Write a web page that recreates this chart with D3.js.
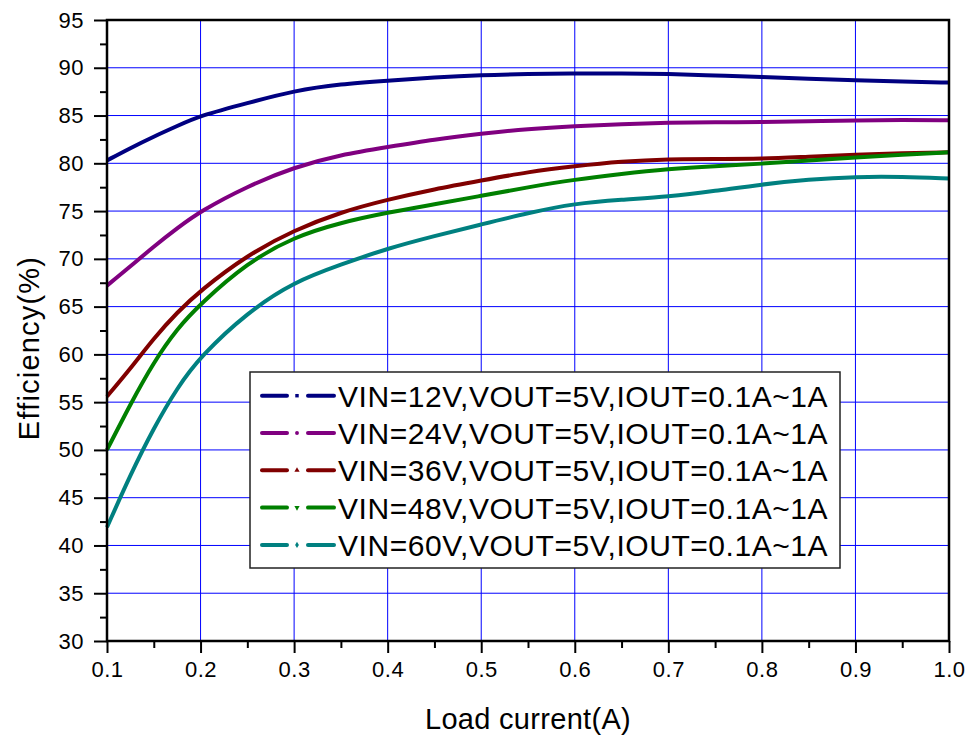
<!DOCTYPE html>
<html>
<head>
<meta charset="utf-8">
<script src="https://cdn.jsdelivr.net/npm/d3@7"></script>
<style>
    body { margin: 0; background: #fff; }
    #chart { width: 970px; height: 738px; }
    text { font-family: "Liberation Sans", Arial, sans-serif; fill: #000; }
</style>
</head>
<body>
<div id="chart"></div>
<script>
// load current (A)
var loadCurrent = [0.1, 0.125, 0.15, 0.175, 0.2, 0.25, 0.3, 0.35, 0.4, 0.45, 0.5,
    0.55, 0.6, 0.65, 0.7, 0.75, 0.8, 0.85, 0.9, 0.95, 1.0];

// efficiency (%) per input voltage
var eff12 = [80.3, 81.6, 82.8, 83.9, 85.0, 86.3, 87.6, 88.3, 88.65, 89.0, 89.25,
    89.35, 89.42, 89.42, 89.35, 89.2, 89.05, 88.85, 88.7, 88.55, 88.45];
var eff24 = [67.2, 69.2, 71.3, 73.2, 75.0, 77.6, 79.6, 80.9, 81.7, 82.5, 83.1,
    83.6, 83.9, 84.1, 84.25, 84.3, 84.3, 84.4, 84.5, 84.55, 84.5];
var eff36 = [55.6, 58.5, 61.7, 64.4, 66.7, 70.4, 73.0, 74.9, 76.2, 77.3, 78.2,
    79.1, 79.7, 80.2, 80.45, 80.45, 80.45, 80.7, 80.9, 81.05, 81.15];
var eff48 = [50.0, 54.8, 59.2, 62.7, 65.3, 69.6, 72.3, 73.8, 74.85, 75.7, 76.6,
    77.5, 78.3, 78.9, 79.4, 79.7, 79.95, 80.3, 80.6, 80.9, 81.15];
var eff60 = [41.9, 47.4, 52.3, 56.5, 59.8, 64.4, 67.6, 69.4, 71.1, 72.4, 73.6,
    74.8, 75.8, 76.2, 76.5, 77.1, 77.8, 78.3, 78.6, 78.6, 78.4];

var seriesNames = [
    "VIN=12V,VOUT=5V,IOUT=0.1A~1A",
    "VIN=24V,VOUT=5V,IOUT=0.1A~1A",
    "VIN=36V,VOUT=5V,IOUT=0.1A~1A",
    "VIN=48V,VOUT=5V,IOUT=0.1A~1A",
    "VIN=60V,VOUT=5V,IOUT=0.1A~1A"
];
var seriesValues = [eff12, eff24, eff36, eff48, eff60];
var seriesColors = ["#000080", "#800080", "#800000", "#008000", "#008080"];
var seriesMarkers = [d3.symbolSquare, d3.symbolCircle, d3.symbolTriangle, d3.symbolTriangle, d3.symbolDiamond];

var xTicks = [0.1, 0.2, 0.3, 0.4, 0.5, 0.6, 0.7, 0.8, 0.9, 1.0];
var yTicks = [30, 35, 40, 45, 50, 55, 60, 65, 70, 75, 80, 85, 90, 95];

class EffChart {
    constructor() {
        this.width = 970;
        this.height = 738;
        this.left = 107;
        this.right = 949;
        this.top = 20;
        this.bottom = 641;
        this.svg = null;
        this.x = null;
        this.y = null;
    }

    init() {
        this.svg = d3.select("#chart")
            .append("svg")
            .attr("width", this.width)
            .attr("height", this.height);

        this.x = d3.scaleLinear().domain([0.1, 1.0]).range([this.left, this.right]);
        this.y = d3.scaleLinear().domain([30, 95]).range([this.bottom, this.top]);
    }

    // ============================================================
    drawGrid() {
        var g = this.svg.append("g").attr("class", "grid");
        g.selectAll(".vgrid")
            .data(xTicks.slice(1, -1))
            .enter().append("line")
            .attr("x1", (d) => this.x(d)).attr("x2", (d) => this.x(d))
            .attr("y1", this.top).attr("y2", this.bottom)
            .attr("stroke", "#0000ff").attr("stroke-width", 1);
        g.selectAll(".hgrid")
            .data(yTicks.slice(1, -1))
            .enter().append("line")
            .attr("y1", (d) => this.y(d)).attr("y2", (d) => this.y(d))
            .attr("x1", this.left).attr("x2", this.right)
            .attr("stroke", "#0000ff").attr("stroke-width", 1);
    }

    drawCurves() {
        // smooth spline through the read points
        var line = d3.line()
            .x((d) => this.x(d[0]))
            .y((d) => this.y(d[1]))
            .curve(d3.curveBasis);

        this.svg.selectAll(".curve")
            .data(seriesValues)
            .enter().append("path")
            .attr("class", "curve")
            .attr("fill", "none")
            .attr("stroke", (d, i) => seriesColors[i])
            .attr("stroke-width", 4)
            .attr("stroke-linejoin", "round")
            .attr("d", (vals) => line(vals.map((v, i) => [loadCurrent[i], v])));
    }

    drawAxes() {
        var xAxis = d3.axisBottom(this.x)
            .tickValues(xTicks)
            .tickFormat(d3.format(".1f"))
            .tickSize(12)
            .tickPadding(8);
        var yAxis = d3.axisLeft(this.y)
            .tickValues(yTicks)
            .tickFormat(d3.format("d"))
            .tickSize(13)
            .tickPadding(10);

        // minor ticks
        var xMinor = d3.axisBottom(this.x)
            .tickValues(d3.range(0.15, 1.0, 0.1))
            .tickFormat("")
            .tickSize(7);
        var yMinor = d3.axisLeft(this.y)
            .tickValues(d3.range(32.5, 95, 5))
            .tickFormat("")
            .tickSize(7);

        this.svg.append("g")
            .attr("transform", "translate(0," + this.bottom + ")")
            .call(xAxis);
        this.svg.append("g")
            .attr("transform", "translate(0," + this.bottom + ")")
            .call(xMinor);
        this.svg.append("g")
            .attr("transform", "translate(" + this.left + ",0)")
            .call(yAxis);
        this.svg.append("g")
            .attr("transform", "translate(" + this.left + ",0)")
            .call(yMinor);

        this.svg.selectAll(".domain").remove();
        this.svg.selectAll(".tick line").attr("stroke", "#000").attr("stroke-width", 2);
        this.svg.selectAll(".tick text")
            .attr("font-family", "'Liberation Sans', Arial, sans-serif")
            .attr("font-size", 22)
            .attr("letter-spacing", 0.5);

        // frame
        this.svg.append("rect")
            .attr("x", this.left).attr("y", this.top)
            .attr("width", this.right - this.left)
            .attr("height", this.bottom - this.top)
            .attr("fill", "none")
            .attr("stroke", "#000")
            .attr("stroke-width", 2.5);

        // titles
        this.svg.append("text")
            .attr("x", (this.left + this.right) / 2)
            .attr("y", 729)
            .attr("text-anchor", "middle")
            .attr("font-size", 29)
            .attr("letter-spacing", 0.3)
            .text("Load current(A)");
        this.svg.append("text")
            .attr("transform", "translate(39," + 348 + ") rotate(-90)")
            .attr("text-anchor", "middle")
            .attr("font-size", 29)
            .attr("letter-spacing", 1.2)
            .text("Efficiency(%)");
    }

    drawLegend() {
        var lg = this.svg.append("g").attr("class", "legend");
        lg.append("rect")
            .attr("x", 250).attr("y", 372)
            .attr("width", 590).attr("height", 196)
            .attr("fill", "#fff")
            .attr("stroke", "#222")
            .attr("stroke-width", 1.5);

        var rows = lg.selectAll(".row")
            .data(seriesNames)
            .enter().append("g")
            .attr("transform", (d, i) => "translate(0," + (395.7 + i * 37.3) + ")");

        rows.append("line")
            .attr("x1", 262).attr("x2", 287)
            .attr("stroke", (d, i) => seriesColors[i])
            .attr("stroke-width", 4).attr("stroke-linecap", "round");
        rows.append("line")
            .attr("x1", 308).attr("x2", 334)
            .attr("stroke", (d, i) => seriesColors[i])
            .attr("stroke-width", 4).attr("stroke-linecap", "round");
        rows.append("path")
            .attr("transform", (d, i) => "translate(297,0)" + (i == 3 ? " rotate(180)" : ""))
            .attr("d", (d, i) => d3.symbol().type(seriesMarkers[i]).size(12)())
            .attr("fill", (d, i) => seriesColors[i]);
        rows.append("text")
            .attr("x", 338)
            .attr("y", 11)
            .attr("font-size", 30)
            .attr("letter-spacing", 0.55)
            .text((d) => d);
    }
}

var chart = new EffChart();
chart.init();
chart.drawGrid();
chart.drawCurves();
chart.drawAxes();
chart.drawLegend();
</script>
</body>
</html>
